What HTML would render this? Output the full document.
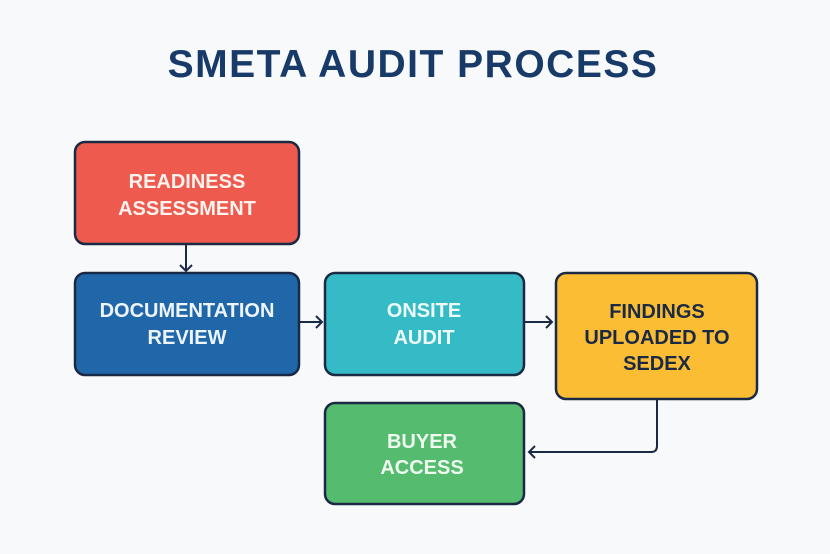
<!DOCTYPE html>
<html><head><meta charset="utf-8"><style>
body{margin:0;background:#f8f9fa;}
svg{display:block}
text{font-family:"Liberation Sans",sans-serif;font-weight:bold;text-anchor:middle}
</style></head><body>
<svg width="830" height="554" viewBox="0 0 830 554" xmlns="http://www.w3.org/2000/svg">
<rect width="830" height="554" fill="#f8f9fa"/>
<text x="413" y="77" font-size="39" fill="#173a69" letter-spacing="1.5">SMETA AUDIT PROCESS</text>
<g stroke="#1b2a44" stroke-width="2.5">
<rect x="75" y="142" width="224" height="102" rx="10" fill="#ef5a4f"/>
<rect x="75" y="273" width="224" height="102" rx="10" fill="#1f67a9"/>
<rect x="325" y="273" width="199" height="102" rx="10" fill="#35bbc6"/>
<rect x="556" y="273" width="201" height="126" rx="10" fill="#fbbd34"/>
<rect x="325" y="403" width="199" height="101" rx="10" fill="#55bb6e"/>
</g>
<g stroke="#1b2a44" stroke-width="2" fill="none">
<path d="M186 245V271M180 265l6 6 6-6"/>
<path d="M300 322H322M316 316l6 6-6 6"/>
<path d="M525 322H552M546 316l6 6-6 6"/>
<path d="M657 400V446q0 6-6 6H529M535 446l-6 6 6 6"/>
</g>
<g font-size="20" fill="#fdf3ee">
<text x="187" y="188">READINESS</text>
<text x="187" y="215">ASSESSMENT</text>
<text x="187" y="317" fill="#eef4fb">DOCUMENTATION</text>
<text x="187" y="344" fill="#eef4fb">REVIEW</text>
<text x="424" y="317" fill="#eefafa">ONSITE</text>
<text x="424" y="344" fill="#eefafa">AUDIT</text>
<text x="657" y="318" fill="#1b2a44">FINDINGS</text>
<text x="657" y="344" fill="#1b2a44">UPLOADED TO</text>
<text x="657" y="370" fill="#1b2a44">SEDEX</text>
<text x="422" y="448" fill="#eefaf0">BUYER</text>
<text x="422" y="474" fill="#eefaf0">ACCESS</text>
</g>
</svg>
</body></html>
